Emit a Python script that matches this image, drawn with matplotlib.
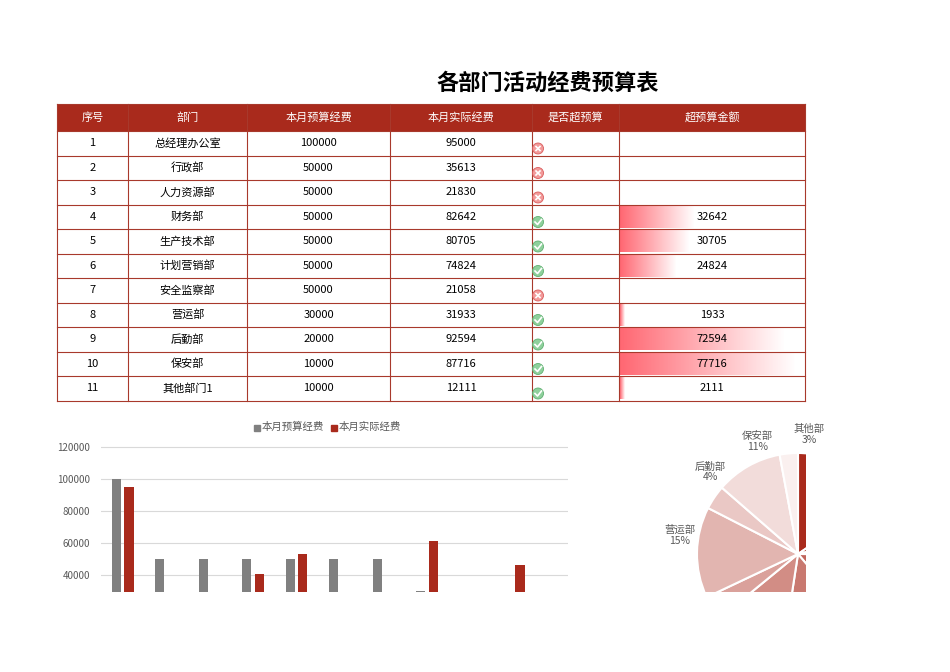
import numpy as np
import matplotlib.pyplot as plt
from matplotlib.patches import Rectangle, Circle

plt.rcParams['font.family'] = ['Noto Sans CJK SC', 'DejaVu Sans']

# table data
title = '各部门活动经费预算表'
headers = ['序号', '部门', '本月预算经费', '本月实际经费', '是否超预算', '超预算金额']
depts = ['总经理办公室', '行政部', '人力资源部', '财务部', '生产技术部', '计划营销部',
         '安全监察部', '营运部', '后勤部', '保安部', '其他部门1']
budget = [100000, 50000, 50000, 50000, 50000, 50000, 50000, 30000, 20000, 10000, 10000]
actual = [95000, 35613, 21830, 82642, 80705, 74824, 21058, 31933, 92594, 87716, 12111]
over_amt = [None, None, None, 32642, 30705, 24824, None, 1933, 72594, 77716, 2111]

# bar chart series (as shown in the chart)
chart_budget = budget
chart_actual = [95000, 25000, 21830, 40800, 53300, 24824, 21058, 61000, 1933, 46000, 2111]

# pie chart shares (%)
pie_pct = [16, 6, 4, 14, 14, 12, 4, 15, 4, 11, 3]
pie_labels = ['总经理办公室', '行政部', '人力资源部', '财务部', '生产技术部', '计划营销部',
              '安全监察部', '营运部', '后勤部', '保安部', '其他部']

RED = '#A92A1C'
GREY = '#808080'
LINE = '#A8392C'

fig = plt.figure(figsize=(9.5, 6.72), dpi=100)
ax = fig.add_axes([0, 0, 1, 1])
ax.set_xlim(0, 950)
ax.set_ylim(0, 672)
ax.axis('off')

def Y(y):
    return 672 - y

ax.text(548, Y(83), title, ha='center', va='center', fontsize=16, fontweight='bold')

col_x = [57, 128, 247, 390, 532, 619, 805]
row_y = [104, 131] + [131 + 24.5 * (i + 1) for i in range(11)]

# header
ax.add_patch(Rectangle((col_x[0], Y(row_y[1])), col_x[-1] - col_x[0], row_y[1] - row_y[0],
                       facecolor=RED, edgecolor='none'))
for j, h in enumerate(headers):
    ax.text((col_x[j] + col_x[j + 1]) / 2, Y((row_y[0] + row_y[1]) / 2), h,
            ha='center', va='center', color='white', fontsize=8)

# gradient bars in last column
grad = np.linspace(0, 1, 100).reshape(1, -1)
vmax = max(v for v in over_amt if v)
for i, v in enumerate(over_amt):
    if not v:
        continue
    top, bot = row_y[i + 1], row_y[i + 2]
    w = (col_x[6] - col_x[5]) * v / vmax * 0.95
    cols = np.zeros((1, 100, 4))
    cols[..., 0] = 1.0
    cols[..., 1] = 0.3
    cols[..., 2] = 0.35
    cols[..., 3] = 0.85 * (1 - grad)
    ax.imshow(cols, extent=(col_x[5] + 1, col_x[5] + 1 + w, Y(bot) + 1, Y(top) - 1),
              aspect='auto', interpolation='bilinear', zorder=1)
ax.set_aspect('auto')

# rows
for i in range(11):
    cy = Y((row_y[i + 1] + row_y[i + 2]) / 2)
    vals = [str(i + 1), depts[i], str(budget[i]), str(actual[i]), '',
            str(over_amt[i]) if over_amt[i] else '']
    for j, t in enumerate(vals):
        if t:
            ax.text((col_x[j] + col_x[j + 1]) / 2, cy, t, ha='center', va='center',
                    fontsize=8, zorder=3)
    # icon
    iy = Y(row_y[i + 2] - 7)
    ok = over_amt[i] is not None
    ax.add_patch(Circle((538, iy), 5.5, facecolor='#8ED09C' if ok else '#F29A9A',
                        edgecolor='#5FAF70' if ok else '#D95C5C', lw=0.6, zorder=3))
    if ok:
        ax.plot([535, 537.5, 541.5], [iy, iy - 2.5, iy + 2.5], color='white', lw=1.2, zorder=4)
    else:
        ax.plot([536, 540], [iy - 2, iy + 2], color='white', lw=1.2, zorder=4)
        ax.plot([536, 540], [iy + 2, iy - 2], color='white', lw=1.2, zorder=4)

# grid lines
for y in row_y:
    ax.plot([col_x[0], col_x[-1]], [Y(y), Y(y)], color=LINE, lw=0.8, zorder=2)
for x in col_x:
    ax.plot([x, x], [Y(row_y[0]), Y(row_y[-1])], color=LINE, lw=0.8, zorder=2)

# pie, in its own axes so it is cut at the sheet edge
px0, px1, py0, py1 = 660, 806, 420, 592
pax = fig.add_axes([px0 / 950, Y(py1) / 672, (px1 - px0) / 950, (py1 - py0) / 672])
pax.axis('off')
n = len(pie_pct)
base = np.array([0xA9, 0x2A, 0x1C]) / 255
pale = np.array([0xFA, 0xF0, 0xEF]) / 255
pie_colors = [tuple(base + (pale - base) * k / (n - 1)) for k in range(n)]
wedges, _ = pax.pie(pie_pct, colors=pie_colors, startangle=90, counterclock=False,
                    center=(798, Y(554)), radius=101,
                    wedgeprops=dict(edgecolor='white', linewidth=1.5))
pax.set_xlim(px0, px1)
pax.set_ylim(Y(py1), Y(py0))
pax.set_aspect('auto')
for wdg in wedges:
    wdg.set_clip_on(True)
    wdg.set_clip_path(pax.patch)
ang = 90
for p, lab in zip(pie_pct, pie_labels):
    mid = np.deg2rad(ang - p / 100 * 180)
    ang -= p / 100 * 360
    if lab not in ('其他部', '保安部', '后勤部', '营运部'):
        continue
    tx = 798 + 120 * np.cos(mid)
    ty = Y(554) + 120 * np.sin(mid)
    ax.text(tx, ty, f'{lab}\n{p}%', ha='center', va='center', fontsize=7.5,
            color='#595959', linespacing=1.1)

# bar chart
bax = fig.add_axes([101 / 950, 80 / 672, 467 / 950, 152 / 672])
x = np.arange(len(depts))
bw = 0.21
bax.bar(x - 0.145, chart_budget, bw, color=GREY)
bax.bar(x + 0.145, chart_actual, bw, color=RED)
bax.set_xlim(-0.5, 10.25)
bax.set_ylim(29375, 124375)
bax.set_yticks(range(40000, 120001, 20000))
bax.tick_params(axis='y', labelsize=7, labelcolor='#595959', length=0, pad=8)
bax.set_xticks([])
bax.yaxis.grid(True, color='#D9D9D9', lw=0.8)
bax.set_axisbelow(True)
for s in bax.spines.values():
    s.set_visible(False)
ax.add_patch(Rectangle((254, Y(431)), 6, 6, color=GREY))
ax.text(262, Y(427), '本月预算经费', fontsize=7.5, color='#595959', va='center')
ax.add_patch(Rectangle((331, Y(431)), 6, 6, color=RED))
ax.text(339, Y(427), '本月实际经费', fontsize=7.5, color='#595959', va='center')

fig.savefig('out.png', dpi=100, facecolor='white')
